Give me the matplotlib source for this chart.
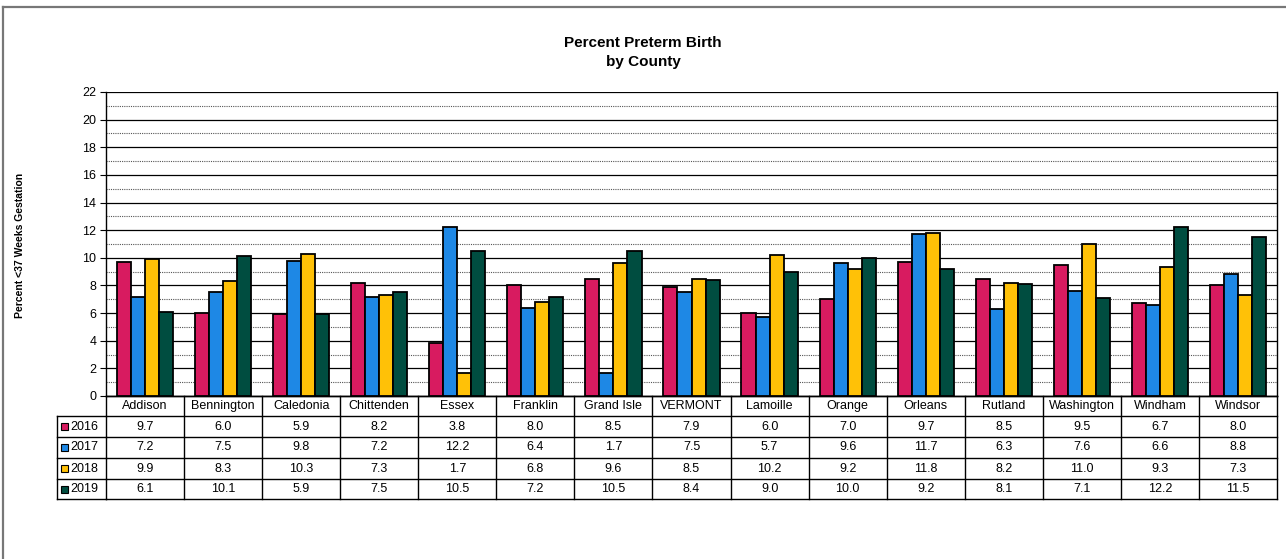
import numpy as np
import matplotlib
matplotlib.use("Agg")
import matplotlib.pyplot as plt
from matplotlib.transforms import blended_transform_factory
from matplotlib.patches import Rectangle

plt.rcParams['font.family'] = ['Liberation Sans', 'DejaVu Sans']

counties = ["Addison", "Bennington", "Caledonia", "Chittenden", "Essex", "Franklin",
            "Grand Isle", "VERMONT", "Lamoille", "Orange", "Orleans", "Rutland",
            "Washington", "Windham", "Windsor"]
years = ["2016", "2017", "2018", "2019"]
v2016 = [9.7, 6.0, 5.9, 8.2, 3.8, 8.0, 8.5, 7.9, 6.0, 7.0, 9.7, 8.5, 9.5, 6.7, 8.0]
v2017 = [7.2, 7.5, 9.8, 7.2, 12.2, 6.4, 1.7, 7.5, 5.7, 9.6, 11.7, 6.3, 7.6, 6.6, 8.8]
v2018 = [9.9, 8.3, 10.3, 7.3, 1.7, 6.8, 9.6, 8.5, 10.2, 9.2, 11.8, 8.2, 11.0, 9.3, 7.3]
v2019 = [6.1, 10.1, 5.9, 7.5, 10.5, 7.2, 10.5, 8.4, 9.0, 10.0, 9.2, 8.1, 7.1, 12.2, 11.5]
series = [v2016, v2017, v2018, v2019]
colors = ["#D81B60", "#1E88E5", "#FFC107", "#004D40"]

W, H = 1286, 559
fig = plt.figure(figsize=(W / 100, H / 100), dpi=100)
fy = lambda py: 1 - py / H

# outer chart border (only top and left edges are visible in the crop)
fig.add_artist(plt.Line2D([3 / W, 1.0], [fy(6.5)] * 2, color="#777777", lw=1.6))
fig.add_artist(plt.Line2D([3 / W] * 2, [fy(6.5), 0.0], color="#777777", lw=1.6))

left, right, top, bottom = 106, 1277, 92, 396
ax = fig.add_axes([left / W, 1 - bottom / H, (right - left) / W, (bottom - top) / H])

n = len(counties)
x = np.arange(n)
bw = 0.18
for i, (vals, c) in enumerate(zip(series, colors)):
    ax.bar(x + (i - 1.5) * bw, vals, bw, color=c, edgecolor="black", linewidth=1.3, zorder=3)

ax.set_xlim(-0.5, n - 0.5)
ax.set_ylim(0, 22)
ax.set_yticks(np.arange(0, 23, 2))
ax.set_yticks(np.arange(1, 22, 2), minor=True)
ax.tick_params(axis="y", which="major", labelsize=9, length=4, width=0.8, pad=3)
ax.tick_params(axis="y", which="minor", length=0)
ax.set_xticks([])
ax.grid(axis="y", which="major", color="black", lw=0.9, zorder=0)
ax.grid(axis="y", which="minor", color="#555555", lw=0.8, ls=(0, (1, 1)), zorder=0)
ax.spines["top"].set_visible(False)
for s in ["left", "bottom", "right"]:
    ax.spines[s].set_linewidth(1.0)

fig.text(643 / W, fy(43), "Percent Preterm Birth", ha="center", va="center",
         fontsize=11, fontweight="bold")
fig.text(643 / W, fy(62), "by County", ha="center", va="center",
         fontsize=11, fontweight="bold")
fig.text(20 / W, fy(245), "Percent <37 Weeks Gestation", rotation=90, ha="center",
         va="center", fontsize=7.5, fontweight="bold")

# data table below the axis
tr = blended_transform_factory(ax.transData, fig.transFigure)
tf = fig.transFigure
rows = [396, 416, 437, 458, 479, 499]
lw = 1.0
ax.plot([-0.5, n - 0.5], [fy(rows[0])] * 2, transform=tr, color="black", lw=lw, clip_on=False)
for r in rows[1:]:
    fig.add_artist(plt.Line2D([57 / W, left / W], [fy(r)] * 2, color="black", lw=lw))
    ax.plot([-0.5, n - 0.5], [fy(r)] * 2, transform=tr, color="black", lw=lw, clip_on=False)
for k in range(n + 1):
    ax.plot([k - 0.5] * 2, [fy(rows[0]), fy(rows[-1])], transform=tr, color="black",
            lw=lw, clip_on=False)
fig.add_artist(plt.Line2D([57 / W] * 2, [fy(rows[1]), fy(rows[-1])], color="black", lw=lw))

for k, name in enumerate(counties):
    ax.text(k, fy((rows[0] + rows[1]) / 2), name, transform=tr, ha="center", va="center",
            fontsize=9)
for i, (yr, vals, c) in enumerate(zip(years, series, colors)):
    yc = fy((rows[i + 1] + rows[i + 2]) / 2)
    fig.patches.append(Rectangle((61 / W, yc - 3.5 / H), 7 / W, 7 / H, transform=tf,
                                 fc=c, ec="black", lw=0.8))
    fig.text(70 / W, yc, yr, ha="left", va="center", fontsize=9)
    for k, v in enumerate(vals):
        ax.text(k, yc, f"{v:.1f}", transform=tr, ha="center", va="center", fontsize=9)

fig.savefig("out.png", dpi=100)
